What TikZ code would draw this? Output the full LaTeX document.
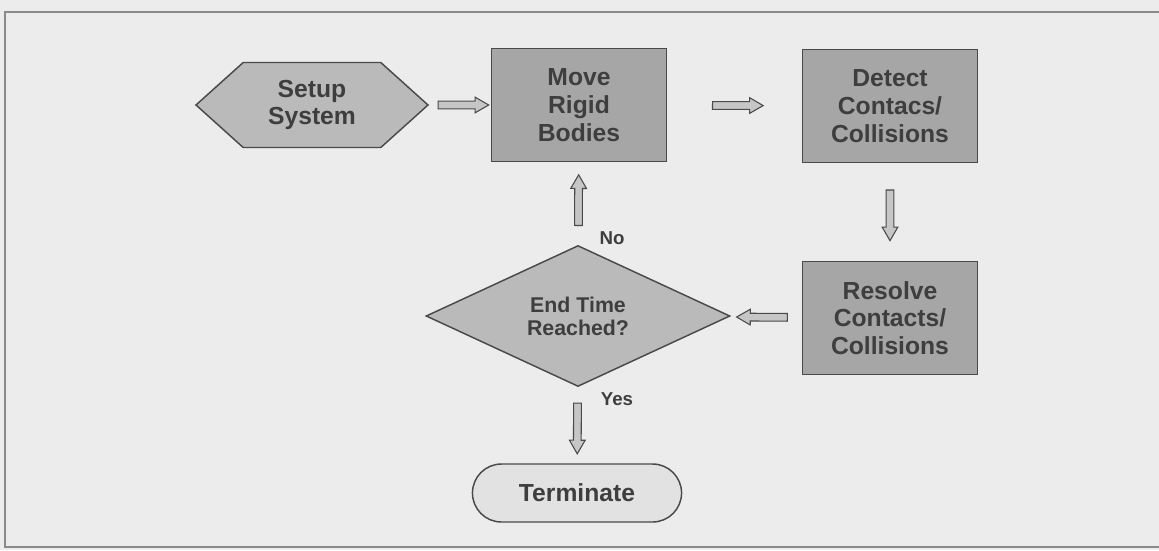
\documentclass[tikz,border=0pt]{standalone}
\usepackage{fontspec}
\setmainfont{Liberation Sans}
\usetikzlibrary{arrows.meta, positioning, shapes.geometric, shapes.misc, shapes.symbols, shapes.arrows}

\definecolor{panelbg}{HTML}{ECECEC}
\definecolor{framegray}{HTML}{8A8A8A}
\definecolor{edgegray}{HTML}{4A4A4A}
\definecolor{boxgray}{HTML}{A6A6A6}
\definecolor{shapegray}{HTML}{BABABA}
\definecolor{termgray}{HTML}{E2E2E2}
\definecolor{arrowgray}{HTML}{C6C6C6}
\definecolor{textgray}{HTML}{3E3E3E}

\begin{document}
\begin{tikzpicture}[
  x=0.75pt, y=-0.75pt,
  every node/.style={text=textgray, font=\bfseries},
  stepbox/.style={rectangle, draw=edgegray, fill=boxgray, line width=1.1pt,
    minimum width=131pt, minimum height=84.5pt, align=center,
    font=\bfseries\fontsize{18.5}{20.8}\selectfont},
  setupbox/.style={signal, signal to=west and east, signal pointer angle=84,
    draw=edgegray, fill=shapegray, line width=1.1pt, inner sep=0pt,
    minimum width=174pt, minimum height=63.75pt, align=center,
    font=\bfseries\fontsize{18.5}{20.8}\selectfont},
  decision/.style={diamond, draw=edgegray, fill=shapegray, line width=1.1pt,
    inner sep=0pt, minimum width=228pt, minimum height=105.75pt, align=center,
    font=\bfseries\fontsize{16}{17.3}\selectfont},
  endbox/.style={rounded rectangle, draw=edgegray, fill=termgray, line width=1.1pt,
    minimum width=163.5pt, minimum height=43.5pt,
    font=\bfseries\fontsize{18.5}{20.8}\selectfont},
  flowarrow/.style={single arrow, draw=edgegray, fill=arrowgray, line width=0.8pt,
    inner sep=0pt, text height=5pt, text depth=0pt, minimum height=38pt,
    single arrow head extend=3pt, single arrow tip angle=60,
    sloped, allow upside down},
  answer/.style={font=\bfseries\fontsize{14}{16}\selectfont}
]
  % Hintergrund und Rahmen
  \fill[panelbg] (0,0) rectangle (1159,550);
  \useasboundingbox (0,0) rectangle (1159,550);
  \draw[framegray, line width=1.2pt] (1159,12) -- (5,12) -- (5,547) -- (1159,547);

  \node[setupbox] (setup) at (312,105) {Setup\\System};
  \node[stepbox] (move) at (579,105) {Move\\Rigid\\Bodies};
  \node[stepbox] (detect) at (890,106) {Detect\\Contacs/\\Collisions};
  \node[stepbox] (resolve) at (890,318) {Resolve\\Contacts/\\Collisions};
  \node[decision] (check) at (578,316) {End Time\\Reached?};
  \node[endbox] (stop) at (577,493) {Terminate};

  \node[answer] (no) at (612,238) {No};
  \node[answer] (yes) at (617,399) {Yes};

  % Pfeile zwischen den Schritten
  \path (setup) -- node[flowarrow] {} (move)
        (move) -- node[flowarrow] {} (detect)
        (detect) -- node[flowarrow] {} (resolve)
        (resolve) -- node[flowarrow] {} (check)
        (check) -- node[flowarrow] {} (move)
        (check) -- node[flowarrow] {} (stop);
\end{tikzpicture}
\end{document}
